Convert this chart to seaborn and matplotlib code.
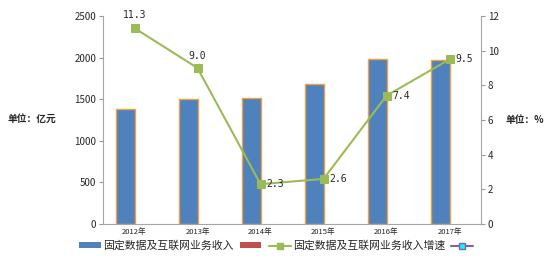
import numpy as np
import pandas as pd
import matplotlib
matplotlib.use('Agg')
import matplotlib.pyplot as plt
import seaborn as sns
from matplotlib.lines import Line2D
from matplotlib.patches import Patch

# chart values
years = ['2012年', '2013年', '2014年', '2015年', '2016年', '2017年']
revenue = [1386, 1506, 1518, 1679, 1983, 1967]
growth = [11.3, 9.0, 2.3, 2.6, 7.4, 9.5]
series_names = ['固定数据及互联网业务收入', '固定数据及互联网业务收入增速']

sns.set_style('white')
plt.rcParams['font.family'] = ['Noto Sans CJK SC', 'DejaVu Sans']

# second (empty) bar series, like in the original spreadsheet chart
df = pd.DataFrame({
    'year': years * 2,
    'value': revenue + [0] * len(years),
    'series': ['a'] * len(years) + ['b'] * len(years),
})

fig = plt.figure(figsize=(5.54, 2.58), dpi=100)
ax = fig.add_axes([103 / 554, 1 - 224 / 258, 378 / 554, 208 / 258])

sns.barplot(data=df, x='year', y='value', hue='series', palette=['#4F81BD', '#C0504D'],
            saturation=1, width=0.6, edgecolor='#F0A040', linewidth=1.0, legend=False, ax=ax)
for p in ax.patches:
    if p.get_height() == 0:
        p.set_visible(False)

ax.set_xlim(-0.5, 5.5)
ax.set_ylim(0, 2500)
ax.set_yticks(range(0, 2501, 500))
ax.set_xlabel('')
ax.set_ylabel('')
ax.set_xticks(np.arange(6))
ax.set_xticklabels(years, fontsize=5.5)
ax.set_xticks(np.arange(-0.5, 6, 1), minor=True)
ax.tick_params(axis='x', which='major', length=0, pad=3)
ax.tick_params(axis='x', which='minor', length=3, color='#999999')
ax.tick_params(axis='y', labelsize=7, length=3, color='#999999', pad=2)
for s in ['top', 'right']:
    ax.spines[s].set_visible(False)
for s in ['left', 'bottom']:
    ax.spines[s].set_color('#A6A6A6')

ax2 = ax.twinx()
sns.lineplot(x=np.arange(6), y=growth, color='#9BBB59', marker='s', markersize=6,
             markeredgecolor='#9BBB59', linewidth=1.5, ax=ax2)
ax2.set_ylim(0, 12)
ax2.set_yticks(range(0, 13, 2))
ax2.tick_params(axis='y', labelsize=7, length=3, color='#999999', pad=2)
for s in ['top', 'left', 'bottom']:
    ax2.spines[s].set_visible(False)
ax2.spines['right'].set_color('#A6A6A6')
ax2.set_xlim(-0.5, 5.5)

offsets = [(0, 6, 'center', 'bottom'), (0, 5, 'center', 'bottom'),
           (4, 0, 'left', 'center'), (4, 0, 'left', 'center'),
           (4, 0, 'left', 'center'), (4, 0, 'left', 'center')]
for i, g in enumerate(growth):
    dx, dy, ha, va = offsets[i]
    ax2.annotate(f'{g:.1f}', (i, g), xytext=(dx, dy), textcoords='offset points',
                 ha=ha, va=va, fontsize=7, family='DejaVu Sans Mono')

fig.text(8 / 554, 1 - 119 / 258, '单位：亿元', fontsize=7, fontweight='bold', va='center')
fig.text(505 / 554, 1 - 120 / 258, '单位：%', fontsize=7, fontweight='bold', va='center')

handles = [
    Patch(facecolor='#4F81BD', edgecolor='none'),
    Patch(facecolor='#C0504D', edgecolor='none'),
    Line2D([], [], color='#9BBB59', marker='s', markersize=5, linewidth=1.5),
    Line2D([], [], color='#8064A2', marker='s', markersize=5, markerfacecolor='#00FFFF',
           markeredgecolor='#8064A2', linewidth=1.5),
]
labels = [series_names[0], '', series_names[1], '']
fig.legend(handles, labels, loc='center', bbox_to_anchor=(0.5, 1 - 246 / 258), ncol=4,
           frameon=False, fontsize=7.8, handlelength=2.0, handleheight=0.5,
           columnspacing=0.6, handletextpad=0.15)

fig.savefig('out.png', dpi=100)
